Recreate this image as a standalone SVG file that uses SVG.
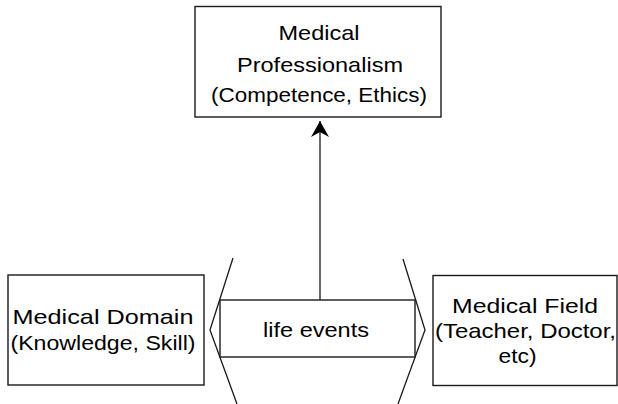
<svg xmlns="http://www.w3.org/2000/svg" width="618" height="404" viewBox="0 0 618 404">
  <defs>
    <style>
      .box { fill: #ffffff; stroke: #1a1a1a; stroke-width: 1.4; }
      .lbl { font-family: "Liberation Sans", Arial, sans-serif; font-size: 21px; fill: #000000; text-anchor: middle; }
      .conn { fill: none; stroke: #1a1a1a; stroke-width: 1.3; }
    </style>
    <marker id="arrow" viewBox="0 0 16 18" refX="16" refY="9" markerWidth="16" markerHeight="18" markerUnits="userSpaceOnUse" orient="auto">
      <path d="M0,0 L16,9 L0,18 L5,9 Z" fill="#000000"/>
    </marker>
  </defs>
  <rect width="618" height="404" fill="#ffffff"/>
  <g id="connectors">
    <line class="conn" x1="320" y1="300" x2="320" y2="121" marker-end="url(#arrow)"/>
    <polyline class="conn" points="233,258 210,330 237,404"/>
    <polyline class="conn" points="403,259 425,330 398,404"/>
  </g>
  <g id="professionalism">
    <rect class="box" x="195" y="6.5" width="246" height="110.5"/>
    <text class="lbl" x="319" y="40" textLength="81" lengthAdjust="spacingAndGlyphs">Medical</text>
    <text class="lbl" x="320" y="72" textLength="166" lengthAdjust="spacingAndGlyphs">Professionalism</text>
    <text class="lbl" x="319" y="102" textLength="216" lengthAdjust="spacingAndGlyphs">(Competence, Ethics)</text>
  </g>
  <g id="domain">
    <rect class="box" x="8" y="275" width="196" height="110"/>
    <text class="lbl" x="103" y="324" textLength="181" lengthAdjust="spacingAndGlyphs">Medical Domain</text>
    <text class="lbl" x="103" y="350" textLength="185" lengthAdjust="spacingAndGlyphs">(Knowledge, Skill)</text>
  </g>
  <g id="life-events">
    <rect class="box" x="220" y="300" width="195" height="57"/>
    <text class="lbl" x="316" y="337" textLength="106" lengthAdjust="spacingAndGlyphs">life events</text>
  </g>
  <g id="field">
    <rect class="box" x="433" y="275.5" width="184" height="110"/>
    <text class="lbl" x="525" y="313" textLength="146" lengthAdjust="spacingAndGlyphs">Medical Field</text>
    <text class="lbl" x="525.5" y="338" textLength="181" lengthAdjust="spacingAndGlyphs">(Teacher, Doctor,</text>
    <text class="lbl" x="517.5" y="363" textLength="38" lengthAdjust="spacingAndGlyphs">etc)</text>
  </g>
</svg>
